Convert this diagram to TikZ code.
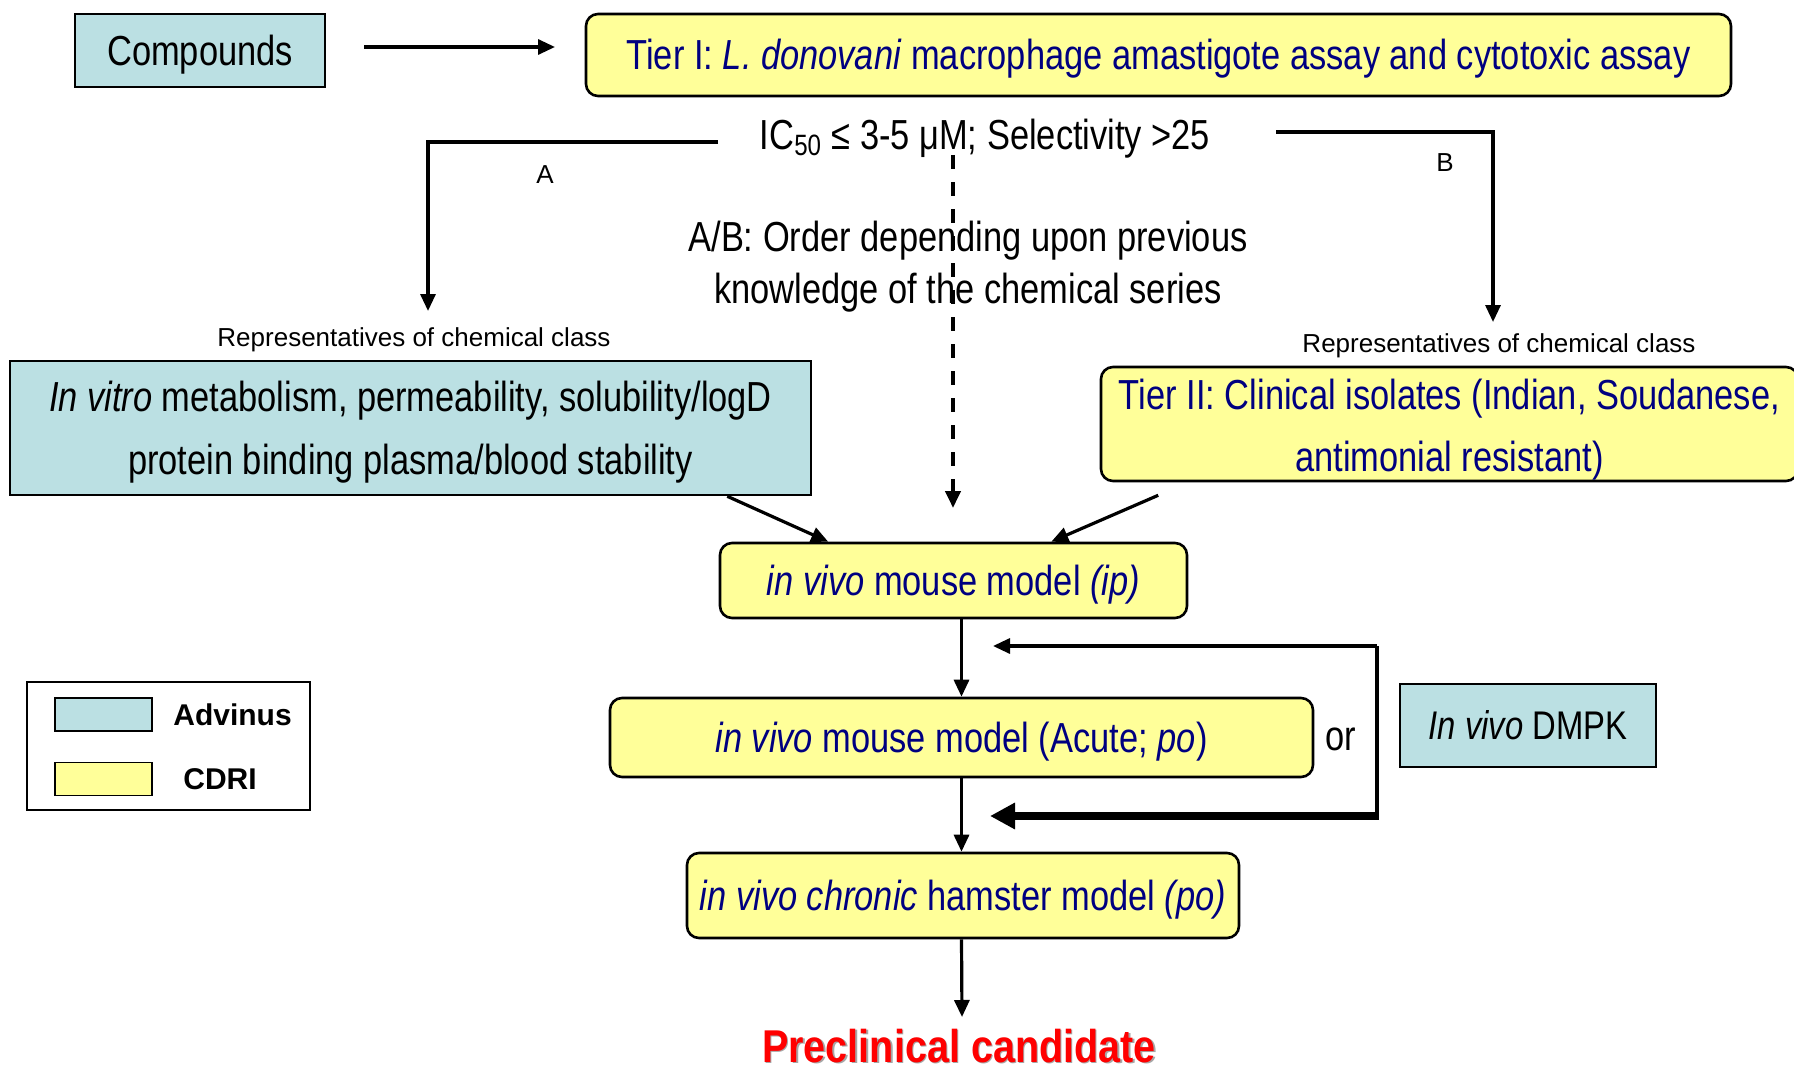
\documentclass[tikz,border=0pt]{standalone}
\usepackage{fontspec}
\setmainfont{Liberation Sans}[FakeStretch=0.82]
\newfontfamily\widefont{Liberation Sans}
\newfontfamily\candfont{Liberation Sans}[FakeStretch=0.86]
\usetikzlibrary{arrows.meta,calc}
\definecolor{advblue}{HTML}{BBE0E3}
\definecolor{cdriyel}{HTML}{FFFF99}
\definecolor{navytext}{HTML}{000080}
\begin{document}
\begin{tikzpicture}[x=0.5pt,y=-0.5pt,
  advbox/.style={draw=black, fill=advblue, line width=1.3pt, inner sep=0pt, align=center, font=\fontsize{21}{25}\selectfont},
  cdribox/.style={draw=black, fill=cdriyel, line width=1.3pt, rounded corners=6pt, inner sep=0pt, align=center, text=navytext, font=\fontsize{21}{25}\selectfont},
  oneline/.style={text height=16.5pt, text depth=1.5pt},
  maintext/.style={inner sep=0pt, font=\fontsize{21}{25}\selectfont},
  smalltext/.style={inner sep=0pt, font=\widefont\fontsize{13}{15}\selectfont},
  legendtext/.style={inner sep=0pt, anchor=west, font=\widefont\bfseries\fontsize{15}{18}\selectfont},
  swatch/.style={draw=black, line width=0.9pt, minimum width=48.5pt, minimum height=16.5pt, inner sep=0pt},
  conn/.style={line width=1.6pt, -{Triangle[length=8.5pt,width=7.5pt]}},
  plainline/.style={line width=1.6pt},
  dashconn/.style={line width=2pt, dash pattern=on 7pt off 6.5pt, -{Triangle[length=8.5pt,width=7.5pt]}},
  thickconn/.style={line width=4pt, -{Triangle[length=12.5pt,width=12.5pt]}},
  candstyle/.style={inner sep=0pt, font=\candfont\bfseries\fontsize{23}{27}\selectfont}
]
\useasboundingbox[fill=white] (0,0) rectangle (1794,1070);

% boxes
\node[advbox, oneline, minimum width=125pt, minimum height=36.5pt] (comp) at (200,50.5) {Compounds};
\node[cdribox, oneline, minimum width=572.5pt, minimum height=41pt] (tier1) at (1158.5,55) {Tier I: \textit{L. donovani} macrophage amastigote assay and cytotoxic assay};
\node[advbox, minimum width=400.5pt, minimum height=67pt] (invitro) at (410.5,428) {};
\node[inner sep=0pt, align=center, font=\fontsize{21}{31.5}\selectfont] (invitroT) at ($(invitro.center)+(0,4.5)$) {\textit{In vitro} metabolism, permeability, solubility/logD\\protein binding plasma/blood stability};
\node[cdribox, minimum width=348.5pt, minimum height=57pt] (tier2) at (1449.5,424) {};
\node[inner sep=0pt, align=center, text=navytext, font=\fontsize{21}{31}\selectfont] (tier2T) at ($(tier2.center)+(0,6)$) {Tier II: Clinical isolates (Indian, Soudanese,\\antimonial resistant)};
\node[cdribox, oneline, minimum width=233.5pt, minimum height=37.5pt] (ip) at (953.5,580.5) {\textit{in vivo} mouse model \textit{(ip)}};
\node[cdribox, oneline, minimum width=351.5pt, minimum height=39.5pt] (acute) at (961.5,737.5) {\textit{in vivo} mouse model (Acute; \textit{po})};
\node[advbox, text height=15.8pt, text depth=1.5pt, minimum width=128pt, minimum height=41.5pt, font=\fontsize{20}{24}\selectfont] (dmpk) at (1528,725.5) {\textit{In vivo} DMPK};
\node[cdribox, oneline, minimum width=276pt, minimum height=42.5pt] (hamster) at (963,895.5) {\textit{in vivo chronic} hamster model \textit{(po)}};

% legend
\node[draw=black, line width=1pt, minimum width=141.5pt, minimum height=64pt, inner sep=0pt] (legend) at (168.5,746) {};
\node[swatch, fill=advblue] (swA) at (103.5,714.5) {};
\node[swatch, fill=cdriyel] (swC) at (103.5,779) {};
\node[legendtext] (lA) at (173,715) {Advinus};
\node[legendtext] (lC) at (183,779) {CDRI};

% free texts
\node[maintext] (ic) at (985,138.5) {IC\textsubscript{50} ≤ 3-5 μM; Selectivity >25};
\node[maintext, align=center, font=\fontsize{21}{26}\selectfont] (ab) at (968,266.5) {A/B: Order depending upon previous\\knowledge of the chemical series};
\node[smalltext] (repA) at (414,339.5) {Representatives of chemical class};
\node[smalltext] (repB) at (1499,346) {Representatives of chemical class};
\node[smalltext] (labA) at (545,175) {A};
\node[smalltext] (labB) at (1445,163) {B};
\node[maintext] (or) at (1341,739.5) {or};
\node[candstyle, text=black!35] (candsh) at (960.5,1047.5) {Preclinical candidate};
\node[candstyle, text=red] (cand) at (959,1046) {Preclinical candidate};

% connectors
\coordinate (cmpS) at (364,47);
\coordinate (cmpE) at (555,47);
\draw[conn] (cmpS) -- (cmpE);

\coordinate (aS) at (718,142);
\coordinate (aE) at (428,311);
\draw[conn] (aS) -| (aE);

\coordinate (bS) at (1276,132);
\coordinate (bE) at (1493,322);
\draw[conn] (bS) -| (bE);

\coordinate (dS) at (953,155);
\coordinate (dE) at (953,508);
\draw[dashconn] (dS) -- (dE);

\draw[conn] ($(invitro.south east)+(-85,0)$) -- ($(ip.north west)+(109.5,0)$);
\draw[conn] ($(tier2.south west)+(58.5,13)$) -- ($(ip.north east)+(-137,0)$);

\draw[conn] (ip.south -| acute.north) -- (acute.north);
\draw[conn] (acute.south) -- (acute.south |- hamster.north);
\coordinate (cT) at (962,1017);
\draw[conn] (acute.south |- hamster.south) -- (cT);

\coordinate (fTR) at (1377,646);
\coordinate (fTL) at (993,646);
\coordinate (fBR) at (1377,816);
\coordinate (fBL) at (990,816);
\draw[conn] (fTR) -- (fTL);
\draw[plainline] (fTR) -- ($(fBR)+(0,4)$);
\draw[thickconn] ($(fBR)+(-2,0)$) -- (fBL);
\end{tikzpicture}
\end{document}
